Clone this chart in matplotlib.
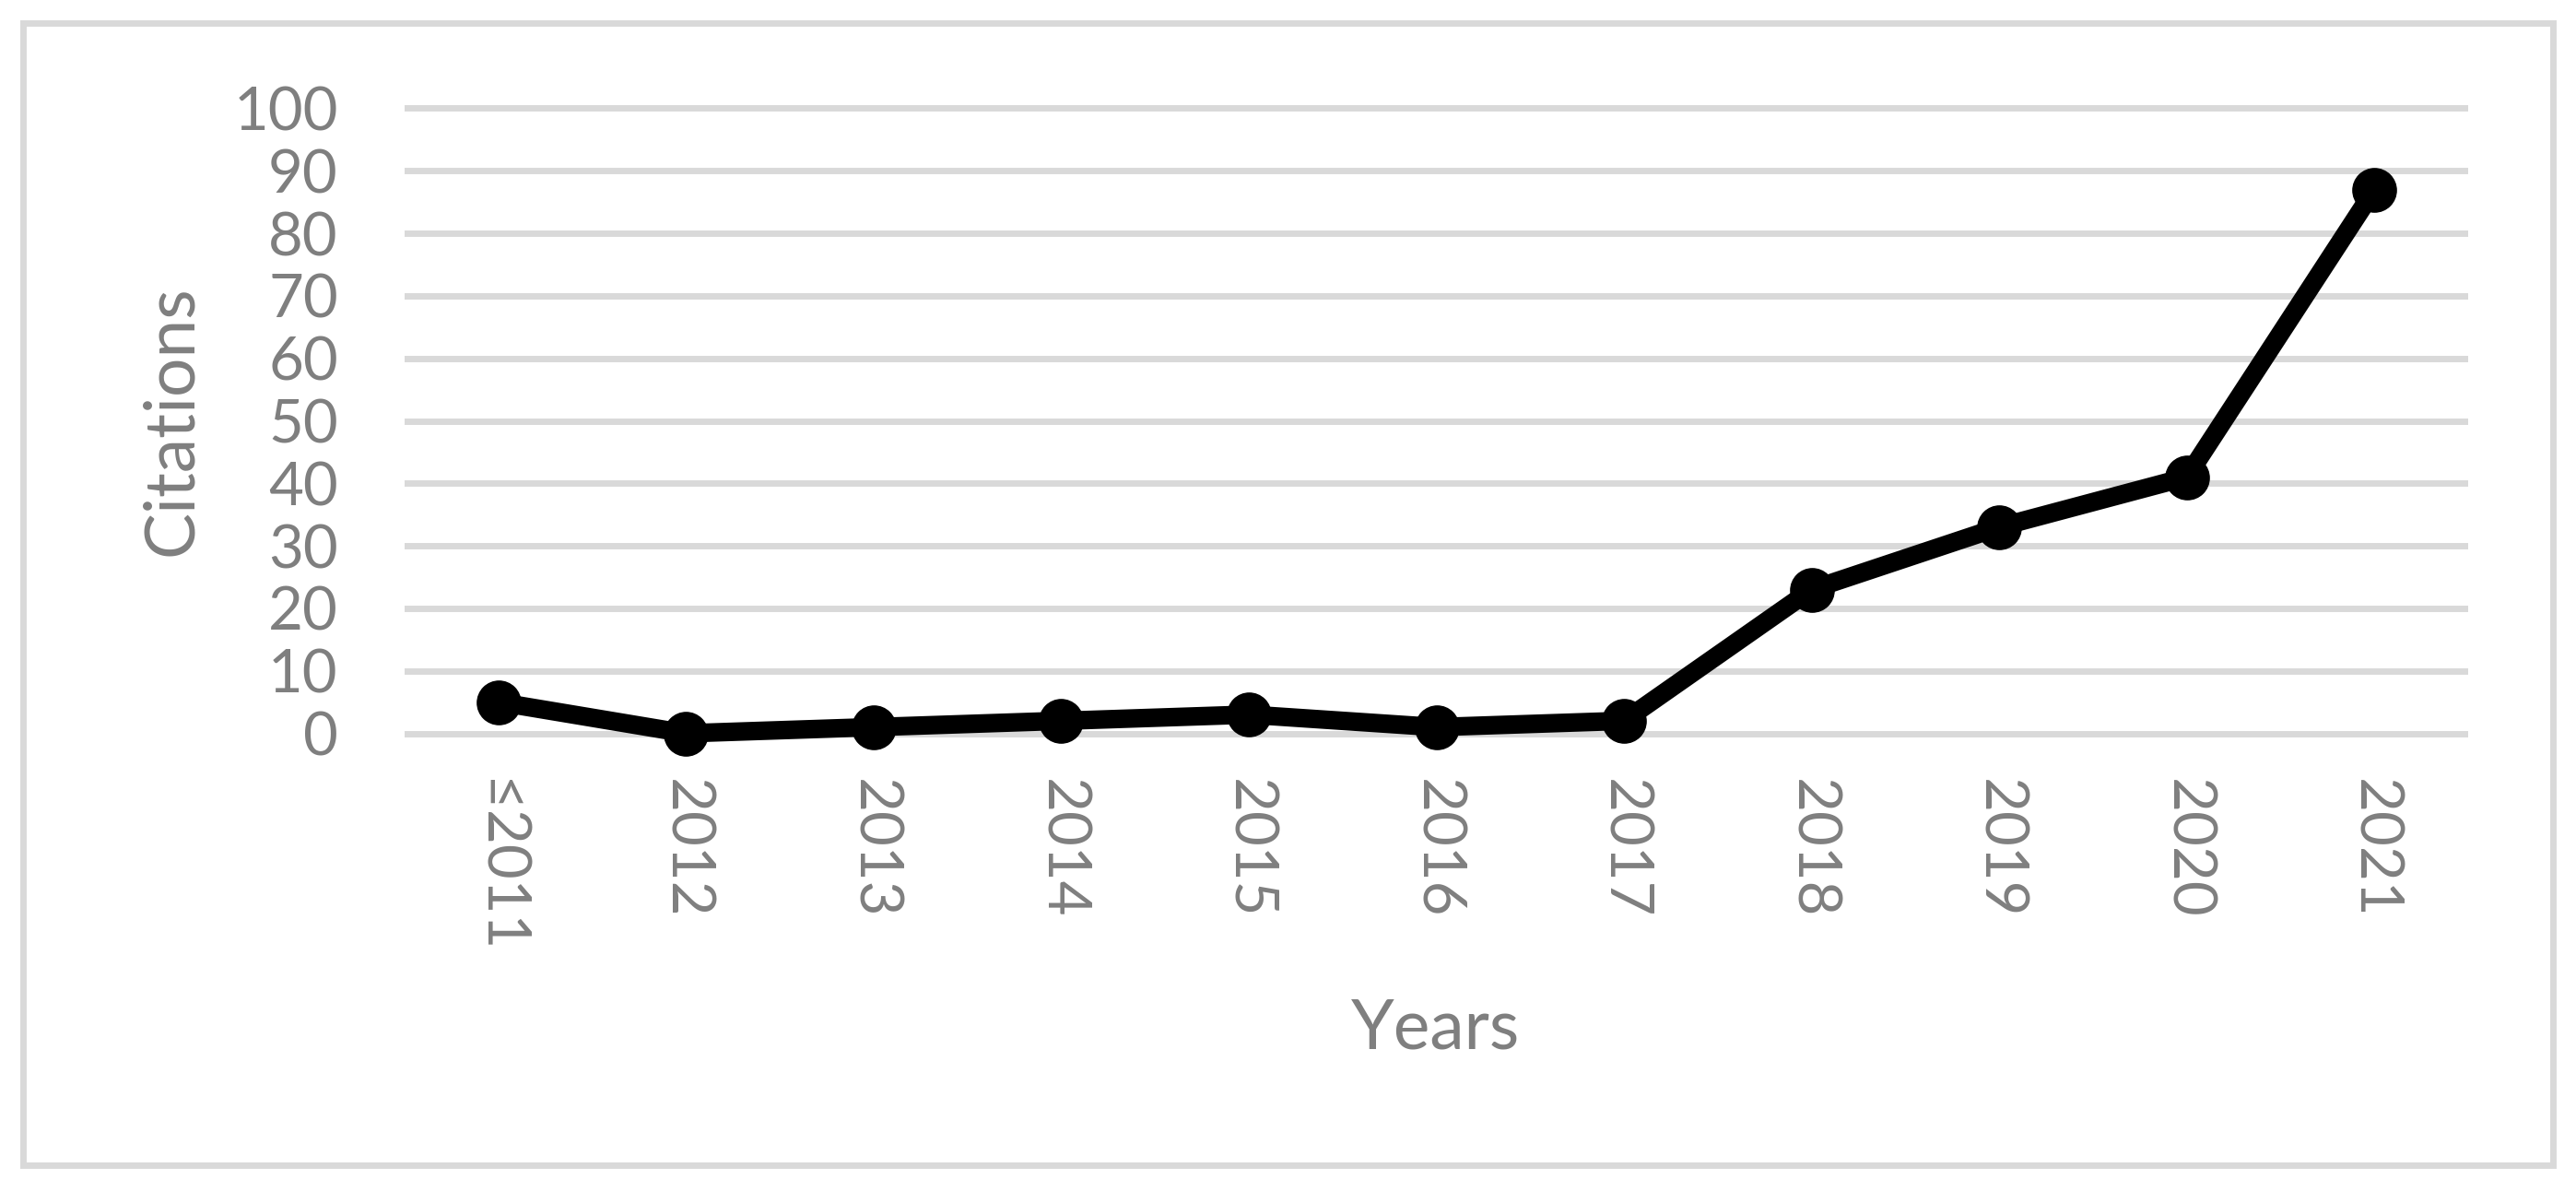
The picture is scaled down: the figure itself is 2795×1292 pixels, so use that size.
import matplotlib
matplotlib.use("Agg")
import matplotlib.pyplot as plt
from matplotlib.patches import Rectangle

# =========================
# Data
# =========================

years = ["≤2011", "2012", "2013", "2014", "2015", "2016",
         "2017", "2018", "2019", "2020", "2021"]

citations = [5, 0, 1, 2, 3, 1, 2, 23, 33, 41, 87]

y_ticks = [0, 10, 20, 30, 40, 50, 60, 70, 80, 90, 100]

# =========================
# Figure
# =========================

plt.rcParams['font.family'] = ['Lato', 'DejaVu Sans']

W, H = 2795, 1292
fig = plt.figure(figsize=(W / 100, H / 100), dpi=100)

gray_text = '#7f7f7f'
grid_color = '#d9d9d9'

# outer chart border
fig.patches.append(
    Rectangle(
        (24.5 / W, 1 - 1263.5 / H),
        2745 / W,
        1239 / H,
        transform=fig.transFigure,
        fill=False,
        edgecolor=grid_color,
        linewidth=5
    )
)

ax = fig.add_axes([439 / W, 1 - 809.1 / H, 2239 / W, 705.2 / H])

x = list(range(len(years)))

for t in y_ticks:
    ax.axhline(t, color=grid_color, linewidth=5, zorder=1)

ax.plot(
    x,
    citations,
    color='black',
    linewidth=14.5,
    marker='o',
    markersize=34,
    clip_on=False,
    zorder=3
)

ax.set_xlim(-0.5, len(years) - 0.5)
ax.set_ylim(-2, 102)

ax.set_xticks(x)
ax.set_xticklabels(years, rotation=270, fontsize=47, color=gray_text)
ax.set_yticks(y_ticks)
ax.set_yticklabels([str(t) for t in y_ticks], fontsize=47, color=gray_text)

ax.tick_params(axis='x', length=0, pad=26)
ax.tick_params(axis='y', length=0, pad=52)

for side in ['top', 'right', 'bottom', 'left']:
    ax.spines[side].set_visible(False)

# =========================
# Axis titles
# =========================

fig.text(187 / W, 1 - 456 / H, "Citations", rotation=90,
         ha='center', va='center', fontsize=54, color=gray_text)

fig.text(1558 / W, 1 - 1137 / H, "Years",
         ha='center', va='baseline', fontsize=54, color=gray_text)

plt.savefig("out.png", dpi=100)
